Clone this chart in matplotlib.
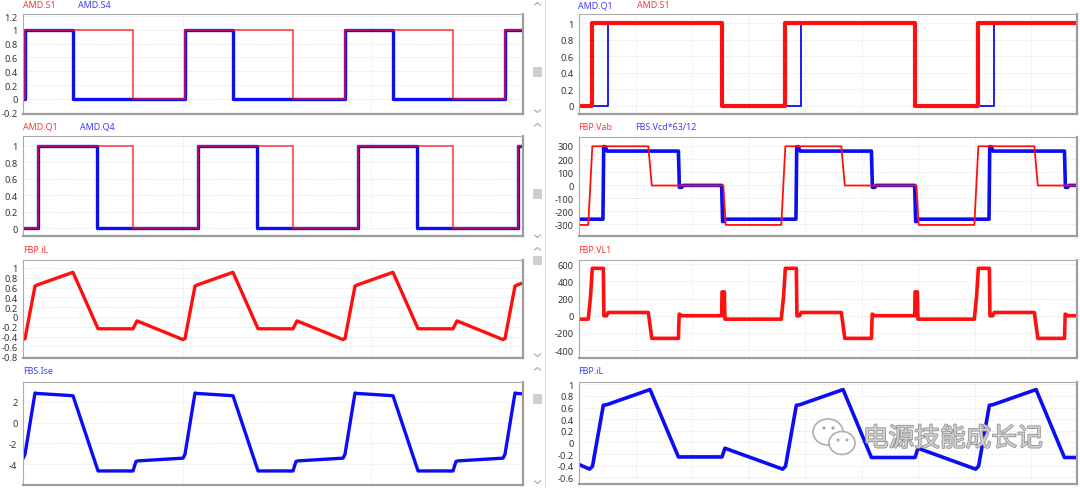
import matplotlib
matplotlib.use('Agg')
import matplotlib.pyplot as plt
from matplotlib.lines import Line2D
from matplotlib.patches import Rectangle, Ellipse
import matplotlib.patheffects as pe

plt.rcParams['axes.unicode_minus'] = False
plt.rcParams['font.family'] = ['Noto Sans', 'DejaVu Sans']

W, H = 1080, 489
RED = '#ff1010'
BLUE = '#0c0cf5'
RED_LBL = '#ff3535'
BLUE_LBL = '#3c3cff'

# ---------------- data (time in microseconds) ----------------
# left column
L_XLIM = (0, 31.25)
L_GRID_T = [10.0, 21.72]

s1_t = [0, 0.125, 6.875, 10.125, 16.875, 20.125, 26.875, 30.125, 31.25]
s1_v = [0, 1, 0, 1, 0, 1, 0, 1, 1]
s4_t = [0, 0.125, 3.125, 10.125, 13.125, 20.125, 23.125, 30.125, 31.25]
s4_v = [0, 1, 0, 1, 0, 1, 0, 1, 1]

q1_t = [0, 0.94, 6.875, 10.94, 16.875, 20.94, 26.875, 30.94, 31.25]
q1_v = [0, 1, 0, 1, 0, 1, 0, 1, 1]
q4_t = [0, 0.94, 4.625, 10.94, 14.625, 20.94, 24.625, 30.94, 31.25]
q4_v = [0, 1, 0, 1, 0, 1, 0, 1, 1]

il_t = [0, 0.125, 0.75, 0.875, 3.125, 4.69, 6.875, 7.125,
        10, 10.125, 10.75, 10.875, 13.125, 14.69, 16.875, 17.125,
        20, 20.125, 20.75, 20.875, 23.125, 24.69, 26.875, 27.125,
        30, 30.125, 30.75, 30.875, 33.125]
il_v = [-0.46, -0.44, 0.63, 0.65, 0.91, -0.24, -0.24, -0.08,
        -0.46, -0.44, 0.63, 0.65, 0.91, -0.24, -0.24, -0.08,
        -0.46, -0.44, 0.63, 0.65, 0.91, -0.24, -0.24, -0.08,
        -0.46, -0.44, 0.63, 0.65, 0.91]

ise_t = [0, 0.125, 0.75, 0.875, 3.125, 4.69, 6.875, 7.06, 7.19,
         10, 10.125, 10.75, 10.875, 13.125, 14.69, 16.875, 17.06, 17.19,
         20, 20.125, 20.75, 20.875, 23.125, 24.69, 26.875, 27.06, 27.19,
         30, 30.125, 30.75, 30.875, 33.125]
ise_v = [-3.45, -3.04, 2.84, 2.8, 2.58, -4.65, -4.65, -3.74, -3.68,
         -3.42, -3.04, 2.84, 2.8, 2.58, -4.65, -4.65, -3.74, -3.68,
         -3.42, -3.04, 2.84, 2.8, 2.58, -4.65, -4.65, -3.74, -3.68,
         -3.42, -3.04, 2.84, 2.8, 2.58]

# right column
R_XLIM = (0, 25.8)
R_GRID_T = [2.93, 5.86, 8.79, 11.72, 14.65, 17.58, 20.51, 23.44]

rs1_t = [0, 0.675, 7.425, 10.675, 17.425, 20.675, 25.8]
rs1_v = [0, 1, 0, 1, 0, 1, 1]
rq1_t = [0, 1.49, 7.425, 11.49, 17.425, 21.49, 25.8]
rq1_v = [0, 1, 0, 1, 0, 1, 1]

vab_t = [0, 0.48, 0.69, 3.59, 3.77, 7.48, 7.6,
         10.48, 10.69, 13.59, 13.77, 17.48, 17.6,
         20.48, 20.69, 23.59, 23.77, 25.8]
vab_v = [-305, -305, 298, 298, -3, -3, -305,
         -305, 298, 298, -3, -3, -305,
         -305, 298, 298, -3, -3]

vcd_t = [0, 1.24, 1.28, 1.36, 1.45, 5.15, 5.2, 5.32, 5.39, 7.39, 7.44, 7.5, 7.56,
         11.24, 11.28, 11.36, 11.45, 15.15, 15.2, 15.32, 15.39, 17.39, 17.44, 17.5, 17.56,
         21.24, 21.28, 21.36, 21.45, 25.15, 25.2, 25.32, 25.39, 25.8]
vcd_v = [-261, -261, 295, 295, 261, 261, -17, -17, -2, -2, -279, -279, -261,
         -261, 295, 295, 261, 261, -17, -17, -2, -2, -279, -279, -261,
         -261, 295, 295, 261, 261, -17, -17, -2, -2]

vl1_t = [0, 0.48, 0.6, 0.69, 1.26, 1.29, 1.43, 1.51, 3.59, 3.77, 5.15, 5.19, 5.33, 7.39, 7.41, 7.53, 7.56,
         10.48, 10.6, 10.69, 11.26, 11.29, 11.43, 11.51, 13.59, 13.77, 15.15, 15.19, 15.33, 17.39, 17.41, 17.53, 17.56,
         20.48, 20.6, 20.69, 21.26, 21.29, 21.43, 21.51, 23.59, 23.77, 25.15, 25.19, 25.33, 25.8]
vl1_v = [-40, -40, 231, 553, 553, -1, -1, 38, 38, -264, -264, 19, 0, 0, 278, 278, -40,
         -40, 231, 553, 553, -1, -1, 38, 38, -264, -264, 19, 0, 0, 278, 278, -40,
         -40, 231, 553, 553, -1, -1, 38, 38, -264, -264, 19, 0, 0]

ril_t = [0, 0.55, 0.7, 1.26, 1.45, 3.68, 5.15, 7.41, 7.56,
         10.55, 10.7, 11.26, 11.45, 13.68, 15.15, 17.41, 17.56,
         20.55, 20.7, 21.26, 21.45, 23.68, 25.15, 25.8]
ril_v = [-0.38, -0.46, -0.41, 0.64, 0.65, 0.91, -0.25, -0.25, -0.10,
         -0.46, -0.41, 0.64, 0.65, 0.91, -0.26, -0.26, -0.10,
         -0.46, -0.41, 0.64, 0.65, 0.91, -0.26, -0.26]

# y ticks per panel
L1_YT = [-0.2, 0, 0.2, 0.4, 0.6, 0.8, 1, 1.2]
L2_YT = [0, 0.2, 0.4, 0.6, 0.8, 1]
L3_YT = [-0.8, -0.6, -0.4, -0.2, 0, 0.2, 0.4, 0.6, 0.8, 1]
L4_YT = [-4, -2, 0, 2]
R1_YT = [0, 0.2, 0.4, 0.6, 0.8, 1]
R2_YT = [-300, -200, -100, 0, 100, 200, 300]
R3_YT = [-400, -200, 0, 200, 400, 600]
R4_YT = [-0.6, -0.4, -0.2, 0, 0.2, 0.4, 0.6, 0.8, 1]

# ---------------- figure ----------------
fig = plt.figure(figsize=(W / 100, H / 100), dpi=100)
fig.patch.set_facecolor('white')


def fx(px):
    return px / W


def fy(py):
    return 1 - py / H


def make_ax(x0, x1, top, bottom, xlim, ylim, yticks, xgrid):
    ax = fig.add_axes([fx(x0), fy(bottom), (x1 - x0) / W, (bottom - top) / H])
    ax.set_xlim(*xlim)
    ax.set_ylim(*ylim)
    ax.set_yticks(yticks)
    labels = []
    for v in yticks:
        s = ('%.1f' % v).rstrip('0').rstrip('.')
        if s == '-0':
            s = '0'
        labels.append(s)
    ax.set_yticklabels(labels)
    ax.set_xticks(xgrid)
    ax.set_xticklabels([])
    ax.tick_params(axis='both', length=0, pad=4, labelsize=6.7, labelcolor='#333333')
    ax.grid(True, color='#d6d6d6', lw=0.6, ls=(0, (1, 2)))
    ax.set_axisbelow(True)
    for side in ('top', 'left'):
        ax.spines[side].set_color('#ababab')
        ax.spines[side].set_linewidth(0.8)
    for side in ('bottom', 'right'):
        ax.spines[side].set_color('#9c9c9c')
        ax.spines[side].set_linewidth(1.6)
    return ax


LX0, LX1 = 23, 523
RX0, RX1 = 579, 1077

ax = make_ax(LX0, LX1, 15, 115, L_XLIM, (-0.22, 1.23), L1_YT, L_GRID_T)
ax.plot(s4_t, s4_v, drawstyle='steps-post', color=BLUE, lw=2.4)
ax.plot(s1_t, s1_v, drawstyle='steps-post', color=RED, lw=1.3, alpha=0.72)

ax = make_ax(LX0, LX1, 137, 237, L_XLIM, (-0.097, 1.118), L2_YT, L_GRID_T)
ax.plot(q4_t, q4_v, drawstyle='steps-post', color=BLUE, lw=2.4)
ax.plot(q1_t, q1_v, drawstyle='steps-post', color=RED, lw=1.3, alpha=0.72)

ax = make_ax(LX0, LX1, 261, 359, L_XLIM, (-0.835, 1.16), L3_YT, L_GRID_T)
ax.plot(il_t, il_v, color=RED, lw=2.4)

ax = make_ax(LX0, LX1, 383, 486, L_XLIM, (-6.0, 3.9), L4_YT, L_GRID_T)
ax.plot(ise_t, ise_v, color=BLUE, lw=2.4)

ax = make_ax(RX0, RX1, 15, 115, R_XLIM, (-0.1, 1.11), R1_YT, R_GRID_T)
ax.plot(rq1_t, rq1_v, drawstyle='steps-post', color=BLUE, lw=1.3)
ax.plot(rs1_t, rs1_v, drawstyle='steps-post', color=RED, lw=3.0)

ax = make_ax(RX0, RX1, 138, 237, R_XLIM, (-390, 369), R2_YT, R_GRID_T)
ax.plot(vcd_t, vcd_v, color=BLUE, lw=2.6)
ax.plot(vab_t, vab_v, color=RED, lw=1.3)

ax = make_ax(RX0, RX1, 261, 359, R_XLIM, (-493, 650), R3_YT, R_GRID_T)
ax.plot(vl1_t, vl1_v, color=RED, lw=2.6)

ax = make_ax(RX0, RX1, 383, 485, R_XLIM, (-0.716, 1.04), R4_YT, R_GRID_T)
ax.plot(ril_t, ril_v, color=BLUE, lw=2.6)

# ---------------- signal labels ----------------
labels = [
    ("AMD.S1", RED_LBL, 23, 6), ("AMD.S4", BLUE_LBL, 78, 6),
    ("AMD.Q1", RED_LBL, 23, 127), ("AMD.Q4", BLUE_LBL, 80, 127),
    ("FBP.iL", RED_LBL, 23, 251),
    ("FBS.Ise", BLUE_LBL, 23, 372),
    ("AMD.Q1", BLUE_LBL, 578, 6), ("AMD.S1", RED_LBL, 637, 6),
    ("FBP.Vab", RED_LBL, 578, 127), ("FBS.Vcd*63/12", BLUE_LBL, 635, 127),
    ("FBP.VL1", RED_LBL, 578, 251),
    ("FBP.iL", BLUE_LBL, 578, 372),
]
for txt, col, px, py in labels:
    fig.text(fx(px), fy(py), txt, color=col, fontsize=6.4, ha='left', va='center')

# ---------------- window chrome (scroll strips) ----------------
fig.add_artist(Line2D([fx(545), fx(545)], [0, 1], color='#dcdcdc', lw=0.8,
                      transform=fig.transFigure))
strips = [(0, 118, 68, 78), (121, 243, 190, 200), (245, 362, 257, 266), (365, 489, 395, 405)]
for top, bot, t0, t1 in strips:
    fig.add_artist(Rectangle((fx(533), fy(t1)), 9 / W, (t1 - t0) / H,
                             facecolor='#cfcfcf', edgecolor='none',
                             transform=fig.transFigure))
    fig.add_artist(Line2D([fx(534.5), fx(537.5), fx(540.5)],
                          [fy(top + 6), fy(top + 3.5), fy(top + 6)],
                          color='#9a9a9a', lw=0.7, transform=fig.transFigure))
    fig.add_artist(Line2D([fx(534.5), fx(537.5), fx(540.5)],
                          [fy(bot - 7), fy(bot - 4.5), fy(bot - 7)],
                          color='#9a9a9a', lw=0.7, transform=fig.transFigure))

# ---------------- watermark ----------------
def bubble(cx, cy, rw, rh):
    fig.add_artist(Ellipse((fx(cx), fy(cy)), rw / W, rh / H, facecolor='white',
                           edgecolor='#a6a6a6', lw=1.2, alpha=0.9,
                           transform=fig.transFigure))


bubble(828, 433, 30, 26)
for dx in (824, 833):
    fig.add_artist(Ellipse((fx(dx), fy(429)), 3.2 / W, 3.2 / H, facecolor='#a6a6a6',
                           edgecolor='none', transform=fig.transFigure))
bubble(842, 444, 26, 23)
for dx in (838, 847):
    fig.add_artist(Ellipse((fx(dx), fy(441)), 3.0 / W, 3.0 / H, facecolor='#a6a6a6',
                           edgecolor='none', transform=fig.transFigure))

fig.text(fx(953), fy(440), '电源技能成长记', fontsize=18.5,
         family=['Noto Sans CJK SC', 'DejaVu Sans'], color='#d2d2d2',
         ha='center', va='center', alpha=0.95,
         path_effects=[pe.withStroke(linewidth=1.2, foreground='#8e8e8e')])

fig.savefig('out.png', dpi=100, facecolor='white')
